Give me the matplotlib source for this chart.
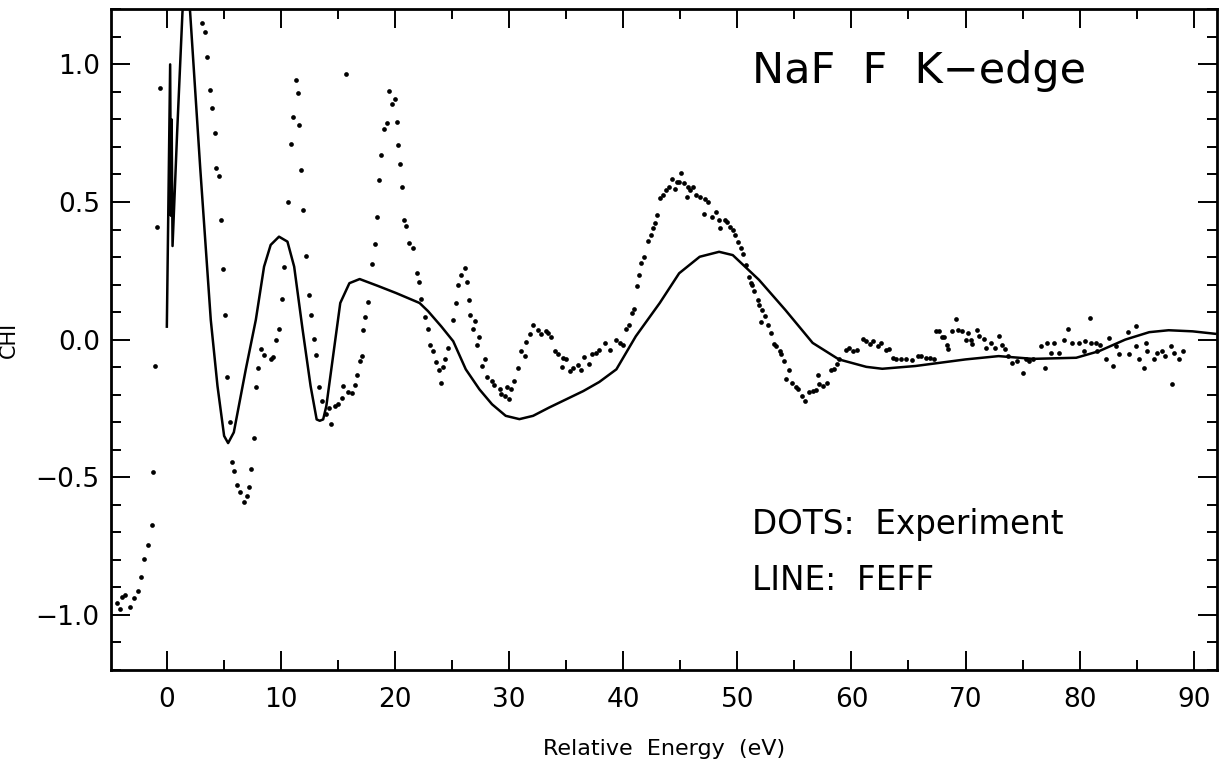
import numpy as np
import matplotlib
matplotlib.use("Agg")
import matplotlib.pyplot as plt
from matplotlib.ticker import MultipleLocator

plt.rcParams['font.family'] = ['DejaVu Sans']

# FEFF calculation (solid line)
line_E = [0.0, 0.29, 0.36, 0.42, 0.5, 0.9, 1.37, 1.7, 2.04, 2.92, 3.85, 4.44, 5.02, 5.37,
          5.87, 6.92, 7.8, 8.52, 9.1, 9.83, 10.57, 11.16, 11.88, 12.6, 13.13, 13.4, 13.7,
          13.98, 14.57, 15.2, 16.0, 16.9, 18.5, 20.1, 22.15, 22.9, 24.05, 25.1, 26.2, 27.4,
          28.5, 29.7, 30.9, 32.1, 33.5, 35.0, 36.5, 37.9, 39.4, 41.1, 43.2, 44.9, 46.7,
          48.4, 49.6, 51.9, 54.2, 56.6, 58.9, 61.3, 62.7, 65.6, 70.0, 72.9, 75.9, 79.7,
          81.7, 84.0, 86.1, 87.8, 89.9, 91.9]
line_chi = [0.047, 1.0, 0.45, 0.8, 0.34, 0.75, 1.19, 1.35, 1.19, 0.627, 0.072, -0.169,
            -0.35, -0.376, -0.337, -0.108, 0.072, 0.265, 0.344, 0.374, 0.356, 0.265, 0.042,
            -0.169, -0.29, -0.295, -0.29, -0.241, -0.06, 0.133, 0.205, 0.22, 0.195, 0.169,
            0.133, 0.103, 0.048, -0.006, -0.108, -0.181, -0.235, -0.277, -0.289, -0.277,
            -0.247, -0.217, -0.187, -0.154, -0.108, 0.012, 0.133, 0.241, 0.301, 0.319,
            0.307, 0.217, 0.108, -0.012, -0.072, -0.099, -0.106, -0.096, -0.072, -0.06,
            -0.07, -0.066, -0.042, 0.0, 0.027, 0.034, 0.03, 0.021]

# experiment (dots)
exp_E = [-4.4, -4.1, -3.97, -3.7, -3.27, -2.85, -2.55, -2.3, -2.02, -1.64, -1.34, -1.19,
         -1.04, -0.82, -0.59, 3.12, 3.36, 3.56, 3.77, 3.97, 4.2, 4.32, 4.58, 4.73, 4.96,
         5.08, 5.31, 5.55, 5.75, 5.9, 6.13, 6.42, 6.77, 7.0, 7.21, 7.41, 7.65, 7.82, 8.0,
         8.23, 8.52, 9.1, 9.34, 9.6, 9.83, 10.07, 10.27, 10.66, 10.86, 11.06, 11.3, 11.47,
         11.62, 11.76, 11.97, 12.23, 12.46, 12.61, 12.88, 13.06, 13.32, 13.63, 13.92,
         14.21, 14.42, 14.71, 15.0, 15.37, 15.45, 15.7, 15.9, 16.2, 16.5, 16.7, 16.9, 17.1,
         17.2, 17.4, 17.6, 17.98, 18.2, 18.4, 18.6, 18.8, 19.0, 19.3, 19.5, 19.7, 20.0,
         20.2, 20.25, 20.4, 20.6, 20.8, 21.0, 21.2, 21.6, 21.9, 22.1, 22.3, 22.65, 22.9,
         23.1, 23.3, 23.55, 23.85, 24.05, 24.2, 24.4, 24.6, 25.1, 25.3, 25.55, 25.8, 26.1,
         26.3, 26.5, 26.6, 26.8, 27.0, 27.2, 27.4, 27.65, 27.85, 28.1, 28.5, 28.7, 29.2,
         29.3, 29.6, 29.8, 30.0, 30.2, 30.4, 30.8, 31.05, 31.35, 31.5, 31.8, 32.1, 32.5,
         32.8, 33.2, 33.4, 33.7, 34.0, 34.3, 34.6, 34.7, 35.0, 35.3, 35.6, 36.0, 36.3,
         36.6, 37.0, 37.3, 37.6, 37.9, 38.4, 38.8, 39.4, 39.7, 39.95, 40.25, 40.5, 40.8,
         40.95, 41.2, 41.4, 41.6, 41.8, 42.2, 42.4, 42.6, 42.8, 43.0, 43.2, 43.5, 43.75,
         44.05, 44.25, 44.5, 44.7, 44.9, 45.1, 45.35, 45.55, 45.7, 45.85, 46.1, 46.4,
         46.7, 47.1, 47.2, 47.4, 47.8, 48.1, 48.4, 48.5, 48.9, 49.1, 49.4, 49.6, 49.8,
         50.1, 50.3, 50.5, 50.75, 50.98, 51.2, 51.3, 51.5, 51.8, 51.9, 52.1, 52.2, 52.4,
         52.65, 52.95, 53.2, 53.4, 53.7, 53.85, 54.1, 54.3, 54.5, 54.8, 55.1, 55.3, 55.7,
         55.95, 56.3, 56.6, 56.9, 57.1, 57.2, 57.5, 57.9, 58.2, 58.5, 58.7, 58.9, 59.5,
         59.8, 60.1, 60.5, 61.0, 61.3, 61.6, 61.9, 62.3, 62.6, 63.0, 63.3, 63.6, 63.9,
         64.3, 64.8, 65.3, 65.8, 66.1, 66.5, 66.9, 67.25, 67.4, 67.7, 67.9, 68.1, 68.4,
         68.5, 68.85, 69.2, 69.3, 69.7, 70.0, 70.2, 70.45, 70.6, 71.0, 71.2, 71.6, 71.8,
         72.2, 72.6, 72.9, 73.2, 73.5, 73.7, 74.1, 74.55, 75.0, 75.3, 75.6, 75.9, 76.6,
         77.0, 77.1, 77.45, 77.75, 78.2, 78.6, 79.0, 79.35, 79.9, 80.4, 80.5, 80.95, 81.0,
         81.4, 81.5, 81.8, 82.3, 82.6, 82.9, 83.2, 83.45, 84.2, 84.3, 84.9, 84.95, 85.2,
         85.6, 85.8, 85.9, 86.5, 86.8, 87.2, 87.5, 88.0, 88.1, 88.3, 88.7, 89.1]
exp_chi = [-0.958, -0.978, -0.934, -0.928, -0.97, -0.938, -0.912, -0.861, -0.798, -0.745,
           -0.672, -0.48, -0.095, 0.41, 0.914, 1.149, 1.118, 1.025, 0.908, 0.84, 0.749,
           0.623, 0.593, 0.434, 0.258, 0.088, -0.136, -0.30, -0.443, -0.479, -0.53, -0.552,
           -0.591, -0.569, -0.536, -0.47, -0.359, -0.174, -0.105, -0.034, -0.057, -0.07,
           -0.062, 0.0, 0.04, 0.148, 0.265, 0.50, 0.711, 0.81, 0.944, 0.897, 0.78, 0.615,
           0.471, 0.305, 0.161, 0.089, 0.003, -0.055, -0.173, -0.224, -0.271, -0.25, -0.305,
           -0.241, -0.235, -0.213, -0.169, 0.964, -0.19, -0.195, -0.166, -0.127, -0.078,
           -0.06, 0.034, 0.083, 0.136, 0.276, 0.346, 0.446, 0.581, 0.669, 0.766, 0.788,
           0.902, 0.856, 0.874, 0.792, 0.708, 0.637, 0.554, 0.434, 0.412, 0.35, 0.332,
           0.241, 0.211, 0.148, 0.081, 0.037, -0.018, -0.042, -0.081, -0.112, -0.157,
           -0.099, -0.07, -0.031, 0.071, 0.133, 0.198, 0.235, 0.259, 0.209, 0.145, 0.089,
           0.04, 0.069, -0.019, 0.011, -0.096, -0.07, -0.136, -0.151, -0.166, -0.181,
           -0.199, -0.205, -0.171, -0.217, -0.181, -0.152, -0.105, -0.042, -0.058, -0.008,
           0.021, 0.052, 0.035, 0.021, 0.033, 0.024, 0.008, -0.042, -0.054, -0.099, -0.066,
           -0.069, -0.115, -0.102, -0.094, -0.111, -0.063, -0.088, -0.054, -0.048, -0.036,
           -0.012, -0.036, 0.0, -0.012, -0.018, 0.039, 0.054, 0.096, 0.111, 0.193, 0.235,
           0.277, 0.301, 0.359, 0.38, 0.404, 0.425, 0.452, 0.516, 0.526, 0.543, 0.554,
           0.582, 0.549, 0.573, 0.573, 0.605, 0.568, 0.519, 0.554, 0.543, 0.554, 0.527,
           0.518, 0.458, 0.512, 0.5, 0.446, 0.463, 0.434, 0.404, 0.434, 0.428, 0.41, 0.398,
           0.38, 0.355, 0.332, 0.311, 0.271, 0.229, 0.207, 0.199, 0.177, 0.145, 0.127,
           0.063, 0.108, 0.084, 0.054, 0.024, -0.015, -0.024, -0.042, -0.051, -0.078,
           -0.142, -0.111, -0.157, -0.171, -0.178, -0.205, -0.223, -0.19, -0.187, -0.183,
           -0.13, -0.163, -0.169, -0.157, -0.111, -0.108, -0.09, -0.072, -0.036, -0.03,
           -0.042, -0.036, 0.003, -0.006, -0.015, -0.006, -0.024, -0.012, -0.036, -0.034,
           -0.066, -0.07, -0.072, -0.07, -0.075, -0.06, -0.058, -0.066, -0.066, -0.07, 0.03,
           0.03, 0.01, 0.01, -0.018, -0.034, 0.03, 0.075, 0.036, 0.03, 0.0, 0.024, 0.0,
           -0.015, 0.036, 0.012, 0.003, -0.03, -0.012, -0.03, 0.012, -0.018, -0.034, -0.06,
           -0.084, -0.078, -0.12, -0.072, -0.078, -0.07, -0.024, -0.102, -0.012, -0.048,
           -0.012, -0.048, 0.0, 0.039, -0.012, -0.012, -0.042, -0.006, 0.078, -0.012,
           -0.012, -0.042, -0.018, -0.07, 0.006, -0.096, -0.024, -0.054, 0.027, -0.054,
           -0.024, 0.048, -0.072, -0.102, -0.012, -0.042, -0.072, -0.048, -0.042, -0.06,
           -0.024, -0.163, -0.048, -0.07, -0.042]

fig = plt.figure(figsize=(12.19, 7.78), dpi=100)
ax = fig.add_axes([0.091, 0.139, 0.907, 0.849])

ax.plot(exp_E, exp_chi, 'o', color='black', markersize=3.4, markeredgewidth=0)
ax.plot(line_E, line_chi, '-', color='black', linewidth=1.8)

ax.set_xlim(-4.9, 92)
ax.set_ylim(-1.2, 1.2)

ax.xaxis.set_major_locator(MultipleLocator(10))
ax.xaxis.set_minor_locator(MultipleLocator(5))
ax.yaxis.set_major_locator(MultipleLocator(0.5))
ax.yaxis.set_minor_locator(MultipleLocator(0.1))
ax.yaxis.set_major_formatter(plt.FuncFormatter(lambda v, p: f"{v:.1f}".replace('-', '\u2212')))

ax.tick_params(which='both', direction='in', top=True, right=True, width=1.4, labelsize=19)
ax.tick_params(which='major', length=14, pad=8)
ax.tick_params(axis='x', which='major', pad=12)
ax.tick_params(which='minor', length=7)
for s in ax.spines.values():
    s.set_linewidth(2)

ax.set_xlabel("Relative  Energy  (eV)", fontsize=16)
ax.xaxis.set_label_coords(0.5, -0.105)
ax.set_ylabel("CHI", fontsize=15)
ax.yaxis.set_label_coords(-0.083, 0.5)

ax.text(0.58, 0.906, "NaF  F  K\u2212edge", transform=ax.transAxes, fontsize=31, va='center')
ax.text(0.58, 0.22, "DOTS:  Experiment", transform=ax.transAxes, fontsize=23.5, va='center')
ax.text(0.58, 0.136, "LINE:  FEFF", transform=ax.transAxes, fontsize=23.5, va='center')

fig.savefig("out.png", dpi=100)
